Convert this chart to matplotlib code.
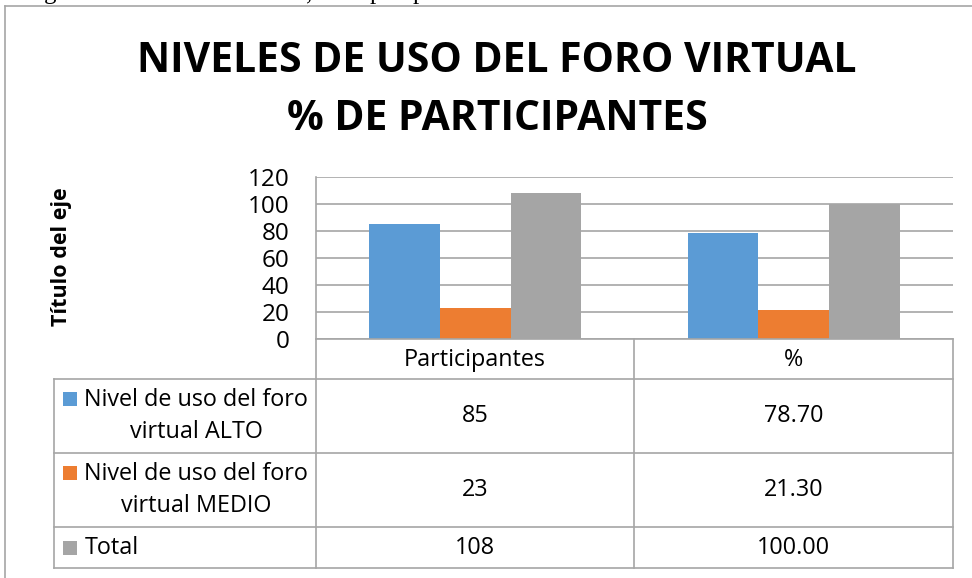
import matplotlib
matplotlib.use('Agg')
import numpy as np
from matplotlib import pyplot as plt
from matplotlib import transforms as mtransforms
from matplotlib.patches import Rectangle
from matplotlib.lines import Line2D

# data
categories = ['Participantes', '%']
series_names = ['Nivel de uso del foro\nvirtual ALTO',
                'Nivel de uso del foro\nvirtual MEDIO',
                'Total']
alto = [85, 78.70]
medio = [23, 21.30]
total = [108, 100.00]
cell_text = [['85', '78.70'], ['23', '21.30'], ['108', '100.00']]
y_ticks = [0, 20, 40, 60, 80, 100, 120]

colors = ['#5B9BD5', '#ED7D31', '#A5A5A5']
line_col = '#A6A6A6'
W, H = 972, 578

plt.rcParams['font.family'] = ['Open Sans', 'DejaVu Sans']

fig = plt.figure(figsize=(W / 100, H / 100), dpi=100)
# pixel coords, origin top-left
px = mtransforms.Affine2D().scale(1 / W, -1 / H).translate(0, 1) + fig.transFigure


def hline(x0, x1, y, lw=1.2, col=line_col):
    fig.add_artist(Line2D([x0, x1], [y, y], transform=px, color=col, lw=lw))


def vline(x, y0, y1, lw=1.2, col=line_col):
    fig.add_artist(Line2D([x, x], [y0, y1], transform=px, color=col, lw=lw))


# plot area
left, right, top, bottom = 316, 953, 177, 339
ax = fig.add_axes([left / W, 1 - bottom / H, (right - left) / W, (bottom - top) / H])
x = np.arange(len(categories))
w = 1 / 4.5
for i, vals in enumerate([alto, medio, total]):
    ax.bar(x + (i - 1) * w, vals, w, color=colors[i], zorder=3)
ax.set_xlim(-0.5, 1.5)
ax.set_ylim(0, 120)
ax.set_yticks(y_ticks)
ax.set_xticks([])
ax.tick_params(axis='y', length=0, pad=19, labelsize=17.5)
ax.grid(axis='y', color=line_col, lw=1.2, zorder=0)
for s in ['top', 'right', 'bottom']:
    ax.spines[s].set_visible(False)
ax.spines['left'].set_color(line_col)
ax.spines['left'].set_linewidth(1.2)
ax.patch.set_alpha(0)

# title and axis title
fig.text(497 / W, 1 - 72 / H, 'NIVELES DE USO DEL FORO VIRTUAL', ha='center', va='baseline',
         fontsize=29.4, fontweight='bold')
fig.text(497 / W, 1 - 130 / H, '% DE PARTICIPANTES', ha='center', va='baseline',
         fontsize=29.4, fontweight='bold')
fig.text(61 / W, 1 - 257 / H, 'Título del eje', rotation=90, ha='center', va='center',
         fontsize=15.5, fontweight='bold')

# data table
col_x = [54, 316, 634, 953]
row_y = [339, 379, 453, 527, 568]
hline(316, 953, 339)
for yy in row_y[1:]:
    hline(54, 953, yy)
vline(54, 379, 568)
vline(316, 339, 568)
vline(634, 339, 568)
vline(953, 339, 568)

fs = 16.8
col_centers = [(col_x[1] + col_x[2]) / 2, (col_x[2] + col_x[3]) / 2]
for c, name in zip(col_centers, categories):
    fig.text(c / W, 1 - 360 / H, name, ha='center', va='center', fontsize=fs)
for r in range(3):
    yc = (row_y[r + 1] + row_y[r + 2]) / 2
    for c, val in zip(col_centers, cell_text[r]):
        fig.text(c / W, 1 - yc / H, val, ha='center', va='center', fontsize=fs)
    name = series_names[r]
    if '\n' in name:
        fig.text(196 / W, 1 - yc / H, name, ha='center', va='center', fontsize=fs,
                 multialignment='center', linespacing=1.4)
        ky = yc - 17
    else:
        fig.text(85 / W, 1 - yc / H, name, ha='left', va='center', fontsize=fs)
        ky = yc
    fig.add_artist(Rectangle((63, ky - 7), 14, 14, transform=px, color=colors[r], lw=0))

# outer frame of the chart
hline(5, W, 6)
vline(5, 6, H)

# descenders of the document text line above the chart
for xx, ch in [(44, 'g'), (306, ','), (370, 'p'), (413, 'p')]:
    fig.text(xx / W, 1 + 1 / H, ch, ha='left', va='baseline', fontsize=18,
             family='Liberation Serif')

fig.savefig('out.png', dpi=100)
